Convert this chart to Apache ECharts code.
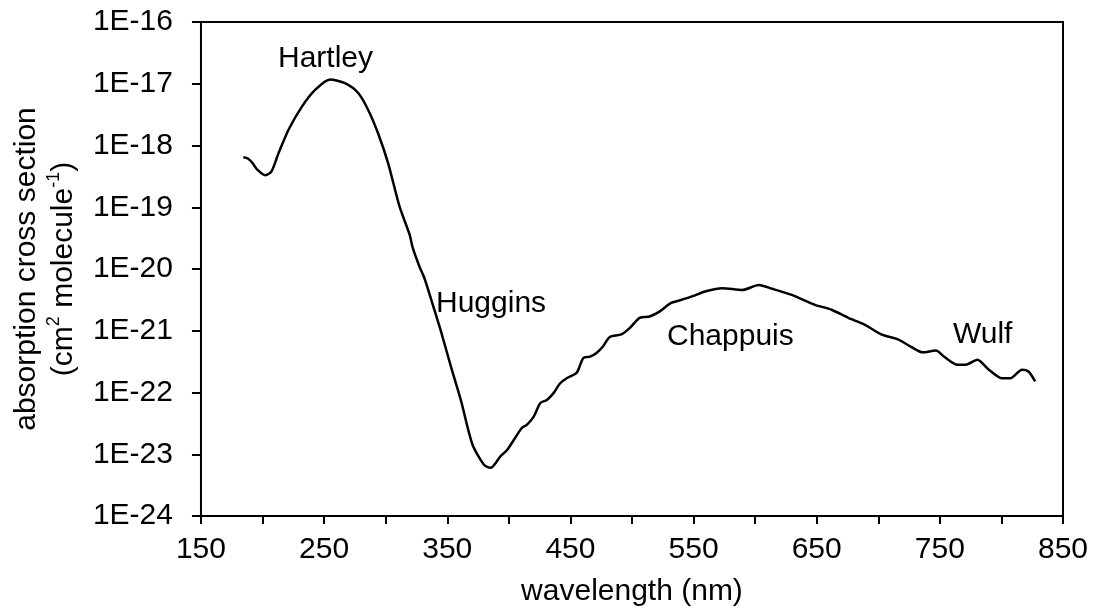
<!DOCTYPE html>
<html>
<head>
<meta charset="utf-8">
<script src="https://cdn.jsdelivr.net/npm/echarts@6/dist/echarts.min.js"></script>
<style>
html,body{margin:0;padding:0;background:#fff;}
#chart{width:1095px;height:613px;}
</style>
</head>
<body>
<div id="chart"></div>
<script>
// wavelength (nm)
var wavelengths = [
  184.4, 188.1, 191.7, 195.7, 202.4, 207.3, 213.1, 221.2, 232.0, 242.7,
  254.8, 266.9, 277.7, 285.7, 293.8, 301.9, 311.3, 319.4, 322.0,
  327.4, 331.5, 339.5, 344.9, 353.0, 361.0, 370.4, 379.8, 385.2, 393.3,
  398.6, 404.0, 410.7, 414.8, 420.2, 425.6, 430.9, 436.3, 441.7, 447.0,
  455.1, 460.5, 465.9, 471.2, 476.6, 482.0, 491.4, 498.1, 506.2, 514.3,
  522.3, 531.7, 538.5, 549.2, 559.9, 573.4, 589.5, 603.0, 613.7, 629.8,
  648.6, 662.1, 675.6, 688.9, 702.4, 715.9, 726.6, 736.0, 746.8, 753.5,
  764.3, 771.0, 780.4, 789.8, 800.6, 807.3, 816.7, 822.0, 827.4
];
// absorption cross section (cm2 molecule-1)
var crossSection = [
  6.46e-19, 6.17e-19, 5.25e-19, 4.07e-19, 3.31e-19, 3.80e-19, 7.59e-19, 1.82e-18, 4.27e-18, 7.94e-18,
  1.17e-17, 1.02e-17, 7.08e-18, 3.80e-18, 1.58e-18, 5.25e-19, 1.02e-19, 3.63e-20, 2.19e-20,
  1.10e-20, 7.08e-21, 2.19e-21, 9.77e-22, 2.63e-22, 7.59e-23, 1.45e-23, 6.76e-24, 6.03e-24, 9.33e-24,
  1.17e-23, 1.70e-23, 2.69e-23, 3.02e-23, 4.07e-23, 6.76e-23, 7.59e-23, 9.77e-23, 1.41e-22, 1.70e-22,
  2.09e-22, 3.63e-22, 3.80e-22, 4.37e-22, 5.62e-22, 7.94e-22, 8.71e-22, 1.10e-21, 1.62e-21, 1.70e-21,
  2.04e-21, 2.82e-21, 3.09e-21, 3.63e-21, 4.37e-21, 4.90e-21, 4.57e-21, 5.50e-21, 4.79e-21, 3.80e-21,
  2.63e-21, 2.19e-21, 1.62e-21, 1.26e-21, 8.71e-22, 7.24e-22, 5.50e-22, 4.47e-22, 4.79e-22, 3.80e-22,
  2.82e-22, 2.82e-22, 3.39e-22, 2.34e-22, 1.70e-22, 1.70e-22, 2.34e-22, 2.19e-22, 1.51e-22
];
var bandLabels = ['Hartley', 'Huggins', 'Chappuis', 'Wulf'];
var xTickLabels = ['150', '250', '350', '450', '550', '650', '750', '850'];
var yTickLabels = ['1E-24', '1E-23', '1E-22', '1E-21', '1E-20', '1E-19', '1E-18', '1E-17', '1E-16'];
var xAxisTitle = 'wavelength (nm)';

// plotted on a decade (log10) value scale
var seriesData = wavelengths.map(function (w, i) { return [w, Math.log10(crossSection[i])]; });
var FONT = '"Liberation Sans", Arial, sans-serif';
var FS = 30;

var chart = echarts.init(document.getElementById('chart'), null, { renderer: 'canvas' });
chart.setOption({
  animation: false,
  backgroundColor: '#ffffff',
  grid: {
    left: 196, right: 32, top: 22, bottom: 97,
    show: true, borderColor: '#000', borderWidth: 2, backgroundColor: 'transparent'
  },
  xAxis: {
    type: 'value', min: 150, max: 850, interval: 50,
    name: xAxisTitle, nameLocation: 'middle', nameGap: 61,
    nameTextStyle: { fontFamily: FONT, fontSize: FS, color: '#000' },
    axisLine: { show: true, lineStyle: { color: '#000', width: 2 } },
    axisTick: { show: true, inside: false, length: 8, lineStyle: { color: '#000', width: 2 } },
    splitLine: { show: false },
    axisLabel: {
      margin: 19, fontFamily: FONT, fontSize: FS, color: '#000',
      formatter: function (v) {
        var s = String(Math.round(v));
        return xTickLabels.indexOf(s) >= 0 ? s : '';
      }
    }
  },
  yAxis: {
    type: 'value', min: -24, max: -16, interval: 1,
    name: 'absorption cross section\n(cm{sup|2} molecule{sup|-1})',
    nameLocation: 'middle', nameRotate: 90, nameGap: 111,
    nameTextStyle: {
      fontFamily: FONT, fontSize: FS, color: '#000', lineHeight: 37, align: 'center',
      rich: {
        sup: { fontFamily: FONT, fontSize: 18, color: '#000', verticalAlign: 'top', lineHeight: 30 }
      }
    },
    axisLine: { show: true, lineStyle: { color: '#000', width: 2 } },
    axisTick: { show: true, inside: false, length: 9, lineStyle: { color: '#000', width: 2 } },
    splitLine: { show: false },
    axisLabel: {
      margin: 28, fontFamily: FONT, fontSize: FS, color: '#000',
      formatter: function (v) { return yTickLabels[Math.round(v) + 24] || ''; }
    }
  },
  series: [{
    type: 'line',
    data: seriesData,
    showSymbol: false,
    smooth: 0.25,
    lineStyle: { color: '#000', width: 2.5 },
    silent: true
  }],
  graphic: [
    { type: 'text', left: 278, top: 44, style: { text: bandLabels[0], font: FS + 'px ' + FONT, fill: '#000' } },
    { type: 'text', left: 436, top: 289, style: { text: bandLabels[1], font: FS + 'px ' + FONT, fill: '#000' } },
    { type: 'text', left: 667, top: 322, style: { text: bandLabels[2], font: FS + 'px ' + FONT, fill: '#000' } },
    { type: 'text', left: 953, top: 320, style: { text: bandLabels[3], font: FS + 'px ' + FONT, fill: '#000' } }
  ]
});
</script>
</body>
</html>
